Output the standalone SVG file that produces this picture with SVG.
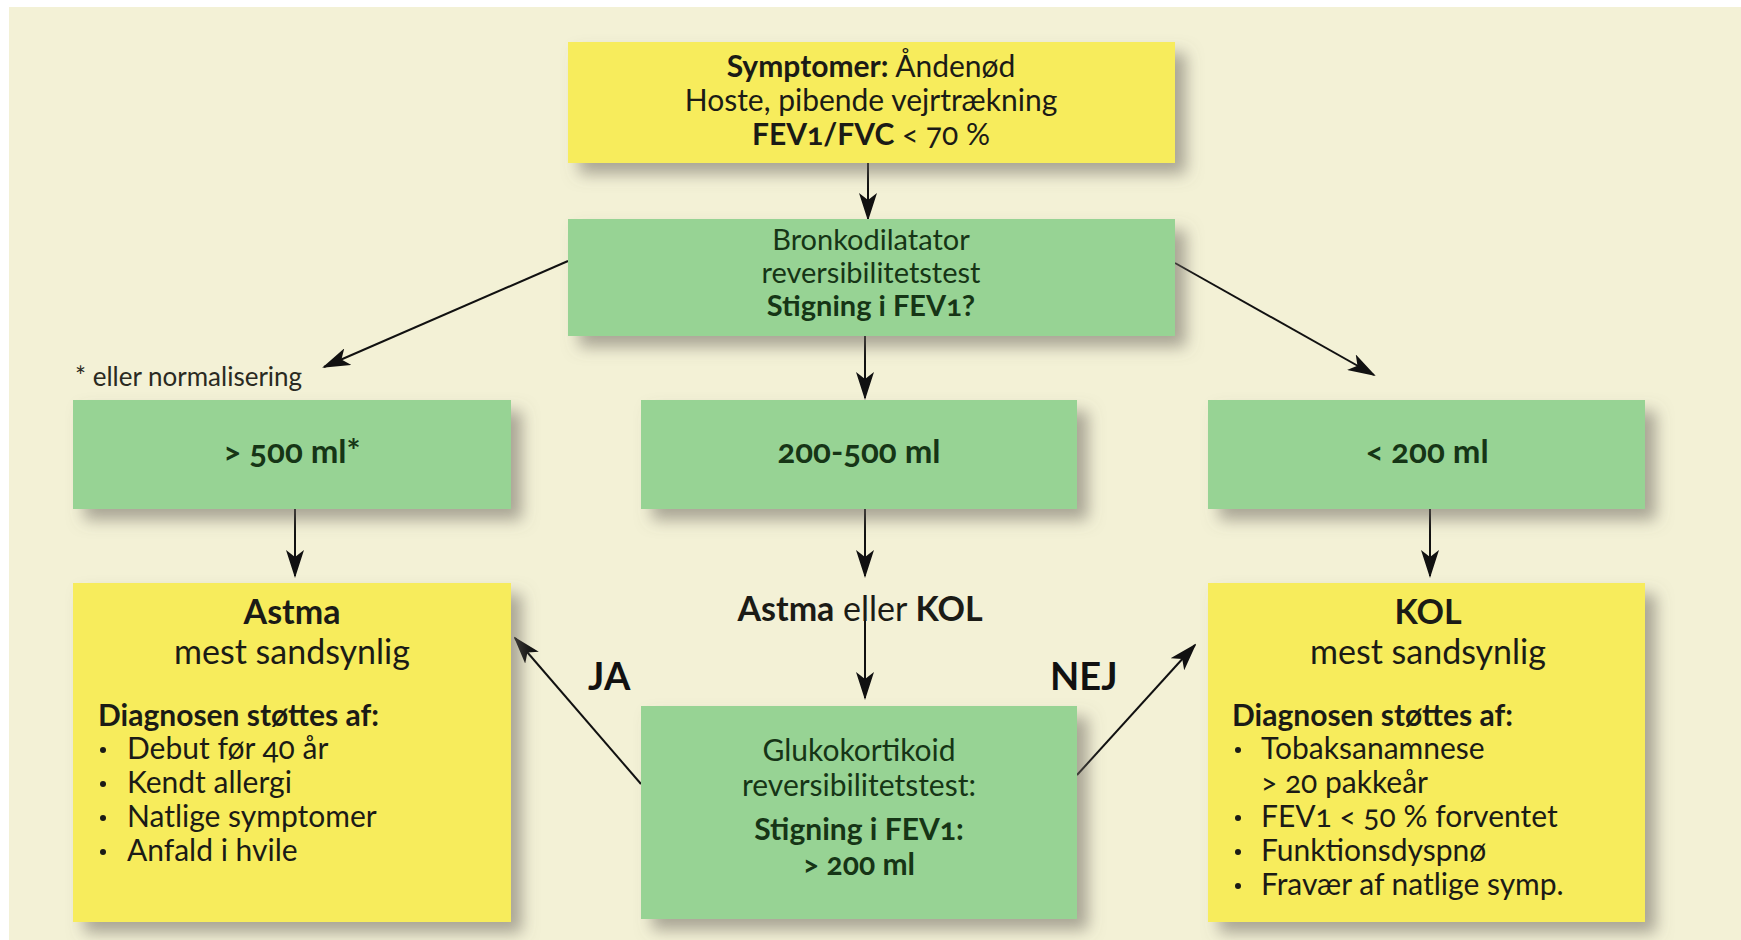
<svg xmlns="http://www.w3.org/2000/svg" width="1741" height="940" viewBox="0 0 1741 940">
<defs>
<style>
text{font-family:Lato,"Open Sans","Liberation Sans",sans-serif;font-variant-numeric:oldstyle-nums;font-feature-settings:"onum" 1;}
.y{fill:#F7EC5B;}
.g{fill:#97D394;}
.ty{fill:#1b1b16;font-size:30px;}
.tg{fill:#163516;font-size:30px;}
.sm{font-size:29px;}
.big{font-size:34px;}
.mid{font-size:33px;}
.c{text-anchor:middle;}
.b{font-weight:bold;}
.con{stroke:#111;stroke-width:2;fill:none;marker-end:url(#ah);}
.lbl{fill:#111;font-size:38px;font-weight:bold;}
</style>
<filter id="sh" x="-10%" y="-10%" width="130%" height="140%">
<feDropShadow dx="11" dy="11" stdDeviation="8" flood-color="#6c6660" flood-opacity="0.55"/>
</filter>
<marker id="ah" markerWidth="28" markerHeight="18" refX="26" refY="9" orient="auto" markerUnits="userSpaceOnUse">
<path d="M0,0 L28,9 L0,18 L7,9 z" fill="#111"/>
</marker>
</defs>
<rect x="0" y="0" width="1741" height="940" fill="#ffffff"/>
<rect x="9" y="7" width="1732" height="933" fill="#F3F1D6"/>

<g id="connectors">
<line class="con" x1="868" y1="163" x2="868" y2="219"/>
<line class="con" x1="865" y1="336" x2="865" y2="398"/>
<line class="con" x1="568" y1="261" x2="324" y2="367"/>
<line class="con" x1="1175" y1="263" x2="1374" y2="375"/>
<line class="con" x1="295" y1="509" x2="295" y2="576"/>
<line class="con" x1="865" y1="509" x2="865" y2="576"/>
<line class="con" x1="865" y1="600" x2="865" y2="698"/>
<line class="con" x1="1430" y1="509" x2="1430" y2="576"/>
<line class="con" x1="641" y1="784" x2="515" y2="638"/>
<line class="con" x1="1077" y1="775" x2="1195" y2="645"/>
</g>

<g id="n-symptomer">
<rect class="y" x="568" y="42" width="607" height="121" filter="url(#sh)"/>
<text class="ty c" x="871" y="77"><tspan class="b">Symptomer:</tspan> Åndenød</text>
<text class="ty c" x="871" y="111">Hoste, pibende vejrtrækning</text>
<text class="ty c" x="871" y="145"><tspan class="b">FEV1/FVC</tspan> &lt; 70 %</text>
</g>

<g id="n-bronko">
<rect class="g" x="568" y="219" width="607" height="117" filter="url(#sh)"/>
<text class="tg c sm" x="871" y="250">Bronkodilatator</text>
<text class="tg c sm" x="871" y="283">reversibilitetstest</text>
<text class="tg c b sm" x="871" y="316">Stigning i FEV1?</text>
</g>

<text id="note" x="75" y="386" fill="#2a2a22" font-size="26">* eller normalisering</text>

<g id="n-500">
<rect class="g" x="73" y="400" width="438" height="109" filter="url(#sh)"/>
<text class="tg c b mid" x="292" y="463">&gt; 500 ml*</text>
</g>

<g id="n-200-500">
<rect class="g" x="641" y="400" width="436" height="109" filter="url(#sh)"/>
<text class="tg c b mid" x="859" y="463">200-500 ml</text>
</g>

<g id="n-200">
<rect class="g" x="1208" y="400" width="437" height="109" filter="url(#sh)"/>
<text class="tg c b mid" x="1427" y="463">&lt; 200 ml</text>
</g>

<g id="n-astma-kol">
<text class="ty c big" x="860" y="621"><tspan class="b">Astma</tspan> eller <tspan class="b">KOL</tspan></text>
</g>

<g id="n-astma">
<rect class="y" x="73" y="583" width="438" height="339" filter="url(#sh)"/>
<text class="ty c b big" x="292" y="624">Astma</text>
<text class="ty c big" x="292" y="664">mest sandsynlig</text>
<text class="ty b" x="98" y="726">Diagnosen støttes af:</text>
<circle cx="103" cy="750" r="3" fill="#1b1b16"/>
<text class="ty" x="127" y="759">Debut før 40 år</text>
<circle cx="103" cy="784" r="3" fill="#1b1b16"/>
<text class="ty" x="127" y="793">Kendt allergi</text>
<circle cx="103" cy="818" r="3" fill="#1b1b16"/>
<text class="ty" x="127" y="827">Natlige symptomer</text>
<circle cx="103" cy="852" r="3" fill="#1b1b16"/>
<text class="ty" x="127" y="861">Anfald i hvile</text>
</g>

<g id="n-gluko">
<rect class="g" x="641" y="706" width="436" height="213" filter="url(#sh)"/>
<text class="tg c" x="859" y="761">Glukokortikoid</text>
<text class="tg c" x="859" y="796">reversibilitetstest:</text>
<text class="tg c b" x="859" y="840">Stigning i FEV1:</text>
<text class="tg c b" x="859" y="875">&gt; 200 ml</text>
</g>

<g id="n-kol">
<rect class="y" x="1208" y="583" width="437" height="339" filter="url(#sh)"/>
<text class="ty c b big" x="1428" y="624">KOL</text>
<text class="ty c big" x="1428" y="664">mest sandsynlig</text>
<text class="ty b" x="1232" y="726">Diagnosen støttes af:</text>
<circle cx="1238" cy="750" r="3" fill="#1b1b16"/>
<text class="ty" x="1261" y="759">Tobaksanamnese</text>
<text class="ty" x="1261" y="793">&gt; 20 pakkeår</text>
<circle cx="1238" cy="818" r="3" fill="#1b1b16"/>
<text class="ty" x="1261" y="827">FEV1 &lt; 50 % forventet</text>
<circle cx="1238" cy="852" r="3" fill="#1b1b16"/>
<text class="ty" x="1261" y="861">Funktionsdyspnø</text>
<circle cx="1238" cy="886" r="3" fill="#1b1b16"/>
<text class="ty" x="1261" y="895">Fravær af natlige symp.</text>
</g>

<text class="lbl" x="588" y="690">JA</text>
<text class="lbl" x="1050" y="690">NEJ</text>
</svg>
